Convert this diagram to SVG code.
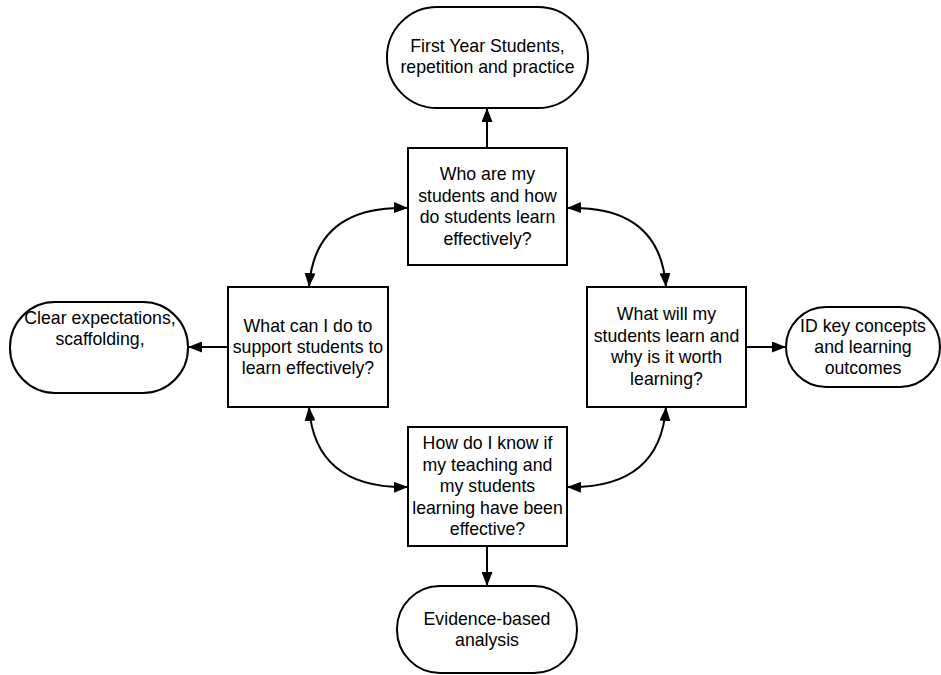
<svg xmlns="http://www.w3.org/2000/svg" width="941" height="675" viewBox="0 0 941 675">
<defs>
<marker id="ah" viewBox="0 0 14 11" refX="14" refY="5.5" markerWidth="14" markerHeight="11" markerUnits="userSpaceOnUse" orient="auto-start-reverse">
<path d="M0,0 L14,5.5 L0,11 Z" fill="#000"/>
</marker>
<style>
.box{fill:#fff;stroke:#000;stroke-width:2}
.t{font-family:"Liberation Sans",Arial,sans-serif;font-size:17.7px;fill:#000;text-anchor:middle;dominant-baseline:central}
.c{fill:none;stroke:#000;stroke-width:2}
</style>
</defs>
<rect width="941" height="675" fill="#fff"/>
<g id="connectors">
<path class="c" d="M487,148 L487,108" marker-end="url(#ah)"/>
<path class="c" d="M228,347 L188,347" marker-end="url(#ah)"/>
<path class="c" d="M746,347 L786,347" marker-end="url(#ah)"/>
<path class="c" d="M487,546 L487,586" marker-end="url(#ah)"/>
<path class="c" d="M408,208 Q315,205 309,287" marker-start="url(#ah)" marker-end="url(#ah)"/>
<path class="c" d="M567,208 Q660,205 666,287" marker-start="url(#ah)" marker-end="url(#ah)"/>
<path class="c" d="M309,407 Q315,489 408,487" marker-start="url(#ah)" marker-end="url(#ah)"/>
<path class="c" d="M666,407 Q660,489 567,487" marker-start="url(#ah)" marker-end="url(#ah)"/>
</g>
<g id="n-top">
<rect class="box" x="387" y="7" width="201" height="101" rx="50" ry="50"/>
<text class="t" x="487.5" y="46">First Year Students,</text>
<text class="t" x="487.5" y="67">repetition and practice</text>
</g>
<g id="q-who">
<rect class="box" x="408" y="148" width="159" height="117"/>
<text class="t" x="487.5" y="174">Who are my</text>
<text class="t" x="487.5" y="195.5">students and how</text>
<text class="t" x="487.5" y="217">do students learn</text>
<text class="t" x="487.5" y="238.5">effectively?</text>
</g>
<g id="q-what-can">
<rect class="box" x="228" y="287" width="160" height="120"/>
<text class="t" x="308" y="326">What can I do to</text>
<text class="t" x="308" y="347">support students to</text>
<text class="t" x="308" y="368">learn effectively?</text>
</g>
<g id="n-left">
<rect class="box" x="10" y="302" width="178" height="91" rx="45" ry="45"/>
<text class="t" x="100" y="318">Clear expectations,</text>
<text class="t" x="100" y="339">scaffolding,</text>
</g>
<g id="q-what-will">
<rect class="box" x="587" y="287" width="159" height="120"/>
<text class="t" x="666.5" y="314">What will my</text>
<text class="t" x="666.5" y="335.5">students learn and</text>
<text class="t" x="666.5" y="357">why is it worth</text>
<text class="t" x="666.5" y="378.5">learning?</text>
</g>
<g id="n-right">
<rect class="box" x="786" y="307" width="154" height="80" rx="40" ry="40"/>
<text class="t" x="863" y="326">ID key concepts</text>
<text class="t" x="863" y="347">and learning</text>
<text class="t" x="863" y="368">outcomes</text>
</g>
<g id="q-how">
<rect class="box" x="408" y="427" width="159" height="119"/>
<text class="t" x="487.5" y="443">How do I know if</text>
<text class="t" x="487.5" y="464.5">my teaching and</text>
<text class="t" x="487.5" y="486">my students</text>
<text class="t" x="487.5" y="507.5">learning have been</text>
<text class="t" x="487.5" y="529">effective?</text>
</g>
<g id="n-bottom">
<rect class="box" x="397" y="586" width="180" height="87" rx="43" ry="43"/>
<text class="t" x="487" y="619">Evidence-based</text>
<text class="t" x="487" y="640">analysis</text>
</g>
</svg>
